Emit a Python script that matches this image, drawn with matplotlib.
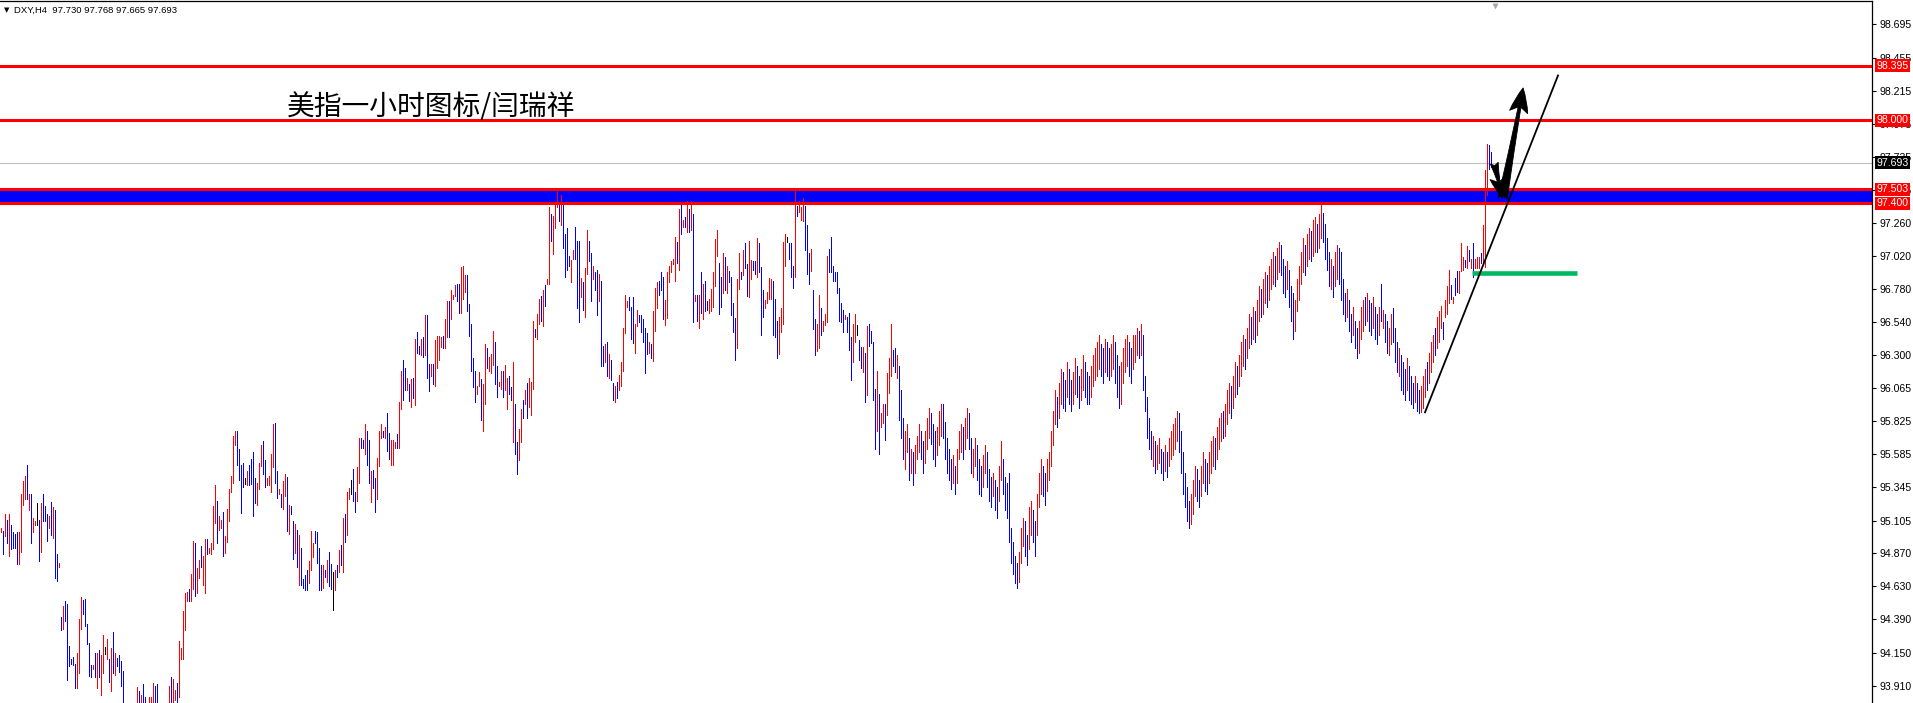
import matplotlib
matplotlib.use('Agg')
import matplotlib.pyplot as plt

# ---------------- data (DXY, H4) ----------------
highs = [
 95.05,95.03,95.15,95.11,95.15,95.07,95.02,95.01,95.02,95.02,
 95.30,95.39,95.43,95.51,95.30,95.30,95.12,95.10,95.23,95.11,
 95.23,95.30,95.21,95.15,95.14,95.24,95.20,95.18,94.86,94.80,
 94.41,94.49,94.52,94.50,94.20,94.10,94.12,94.07,94.15,94.39,
 94.55,94.53,94.54,94.36,94.22,94.06,94.06,94.15,94.15,94.17,
 94.13,94.28,94.19,94.25,94.10,94.18,94.30,94.15,94.11,94.13,
 94.09,94.02,93.76,93.74,93.75,93.73,93.74,93.76,93.90,93.87,
 93.84,93.92,93.83,93.76,93.83,
 93.83,93.93,93.91,93.92,93.76,93.75,93.74,93.76,93.77,93.91,
 93.97,93.96,93.88,93.93,94.23,94.18,94.45,94.58,94.59,94.61,
 94.72,94.96,94.94,94.76,94.82,94.92,94.85,94.97,94.97,94.91,
 94.94,95.21,95.36,95.25,95.14,95.11,95.17,94.99,95.19,95.33,
 95.43,95.72,95.75,95.75,95.62,95.51,95.52,95.41,95.46,95.51,
 95.55,95.60,95.41,95.38,95.52,95.65,95.68,95.54,95.41,95.43,
 95.59,95.80,95.81,95.46,95.33,95.30,95.39,95.44,95.42,95.22,
 95.21,95.10,95.08,95.04,95.00,
 94.91,94.68,94.71,94.75,94.81,95.03,94.94,95.03,95.02,94.91,
 94.78,94.78,94.75,94.82,94.88,94.79,94.73,94.75,94.78,94.89,
 94.93,95.12,95.15,95.31,95.34,95.40,95.48,95.31,95.49,95.70,
 95.70,95.69,95.80,95.75,95.69,95.46,95.47,95.41,95.56,95.75,
 95.80,95.75,95.78,95.88,95.74,95.69,95.69,95.67,95.73,95.96,
 96.19,96.27,96.21,96.14,96.09,96.13,96.14,96.42,96.47,96.37,
 96.42,96.43,96.59,96.59,96.24,96.24,96.24,96.41,96.44,96.44,
 96.43,96.44,96.56,96.69,96.69,
 96.77,96.74,96.81,96.82,96.82,96.94,96.95,96.88,96.88,96.67,
 96.53,96.28,96.19,96.08,96.18,96.13,96.09,96.38,96.35,96.29,
 96.31,96.48,96.40,96.22,96.11,96.19,96.19,96.23,96.14,96.15,
 96.07,96.25,95.95,95.67,95.77,95.91,95.98,96.05,96.10,96.14,
 96.11,96.55,96.49,96.60,96.71,96.73,96.77,96.81,96.85,97.37,
 97.32,97.31,97.39,97.49,97.39,97.46,97.39,97.18,97.22,97.02,
 96.99,97.06,97.23,97.13,97.13,96.86,96.83,96.93,97.21,97.13,
 97.04,96.95,96.90,96.92,96.89,
 96.84,96.37,96.38,96.40,96.31,96.27,96.10,96.08,96.11,96.16,
 96.25,96.50,96.74,96.69,96.72,96.65,96.72,96.53,96.63,96.59,
 96.59,96.56,96.50,96.46,96.40,96.38,96.62,96.79,96.83,96.84,
 96.90,96.87,96.70,96.90,96.95,96.98,97.00,97.16,97.12,97.36,
 97.39,97.28,97.30,97.42,97.36,97.42,97.32,96.74,96.74,96.74,
 96.90,96.82,96.84,96.69,96.71,96.78,96.90,97.14,97.21,96.97,
 96.87,97.04,97.01,96.95,96.91,96.87,96.68,96.57,96.85,97.04,
 96.90,97.06,97.11,96.96,97.13,
 96.99,96.98,96.98,97.15,97.11,96.94,96.77,96.70,96.76,96.86,
 96.85,96.84,96.71,96.55,96.58,96.64,97.12,97.18,97.16,97.11,
 97.11,96.95,97.49,97.38,97.42,97.37,97.44,97.38,97.24,97.04,
 97.07,96.77,96.56,96.53,96.74,96.64,96.55,96.60,97.02,97.07,
 97.16,96.95,96.90,96.90,96.79,96.68,96.63,96.59,96.58,96.61,
 96.43,96.53,96.60,96.52,96.41,96.36,96.36,96.32,96.51,96.53,
 96.48,96.40,96.06,96.19,96.02,95.88,95.95,95.95,96.17,96.28,
 96.53,96.34,96.35,96.30,96.22,
 96.05,95.85,95.75,95.80,95.70,95.62,95.60,95.65,95.72,95.80,
 95.75,95.68,95.75,95.85,95.92,95.88,95.80,95.75,95.78,95.90,
 95.95,95.95,95.82,95.70,95.62,95.55,95.58,95.50,95.62,95.75,
 95.80,95.78,95.85,95.92,95.88,95.70,95.62,95.70,95.65,95.55,
 95.50,95.58,95.65,95.60,95.48,95.42,95.45,95.40,95.35,95.50,
 95.68,95.55,95.42,95.38,95.45,95.05,94.95,94.85,94.80,94.88,
 95.05,95.12,95.10,95.00,95.20,95.25,95.18,95.10,95.30,95.45,
 95.55,95.50,95.45,95.55,95.60,95.75,95.90,96.05,96.00,96.10,
 96.20,96.18,96.12,96.25,96.20,96.12,96.18,96.28,96.22,96.15,
 96.20,96.30,96.25,96.18,96.15,96.22,96.30,96.35,96.40,96.45,
 96.38,96.35,96.42,96.40,96.35,96.38,96.45,96.40,96.30,96.22,
 96.25,96.35,96.42,96.45,96.40,96.35,96.45,96.45,96.50,96.48,
 96.53,96.45,96.15,96.00,95.85,95.75,95.72,95.68,95.65,95.70,
 95.62,95.60,95.65,95.60,95.70,95.75,95.80,95.85,95.90,95.88,
 95.75,95.60,95.45,95.35,95.25,95.30,95.40,95.50,95.48,95.40,
 95.50,95.60,95.55,95.52,95.60,95.68,95.72,95.70,95.78,95.85,
 95.88,95.90,95.95,96.05,96.10,96.08,96.15,96.25,96.22,96.30,
 96.40,96.45,96.42,96.50,96.60,96.58,96.65,96.62,96.70,96.80,
 96.78,96.85,96.90,96.88,96.95,97.00,97.05,97.02,97.08,97.12,
 97.10,97.00,96.95,96.98,96.92,96.80,96.75,96.70,96.85,96.95,
 97.05,97.15,97.10,97.18,97.22,97.20,97.28,97.30,97.25,97.32,
 97.39,97.33,97.25,97.15,97.05,97.00,96.95,97.05,97.10,97.08,
 97.05,96.85,96.75,96.78,96.70,96.60,96.65,96.55,96.50,96.55,
 96.65,96.70,96.72,96.75,96.70,96.68,96.72,96.65,96.60,96.65,
 96.82,96.63,96.60,96.55,96.50,96.60,96.64,96.50,96.40,96.35,
 96.30,96.25,96.20,96.28,96.22,96.15,96.10,96.15,96.10,96.05,
 96.08,96.15,96.20,96.25,96.32,96.40,96.45,96.50,96.58,96.62,
 96.66,96.54,96.70,96.80,96.92,96.81,96.72,96.86,96.91,96.91,
 97.11,97.01,96.99,97.09,97.06,97.00,97.11,97.00,97.01,97.01,
 97.04,97.24,97.64,97.83,97.82,97.768,
]
lows = [
 95.02,94.86,94.99,94.94,94.85,94.90,94.91,94.91,94.79,94.79,
 94.88,95.22,95.26,95.26,95.18,94.94,95.02,95.07,95.07,94.81,
 94.88,95.10,95.10,94.96,95.05,95.00,94.98,94.69,94.67,94.77,
 94.31,94.32,94.38,93.95,94.05,94.07,94.06,93.89,93.89,94.00,
 94.32,94.43,94.34,94.21,93.98,93.97,94.03,93.97,93.89,93.97,
 93.84,94.00,94.14,94.10,93.94,93.87,94.00,93.99,94.05,94.01,
 93.91,93.75,93.62,93.60,93.62,93.60,93.61,93.63,93.74,93.74,
 93.74,93.74,93.74,93.65,93.74,
 93.72,93.72,93.72,93.72,93.62,93.60,93.60,93.62,93.63,93.72,
 93.72,93.73,93.81,93.74,93.83,94.10,94.10,94.31,94.52,94.52,
 94.52,94.61,94.56,94.58,94.69,94.77,94.64,94.58,94.86,94.87,
 94.86,94.90,95.09,94.94,95.04,95.05,94.85,94.87,94.95,95.10,
 95.31,95.38,95.65,95.51,95.40,95.16,95.35,95.37,95.36,95.36,
 95.37,95.14,95.23,95.22,95.33,95.50,95.44,95.35,95.36,95.36,
 95.31,95.49,95.38,95.27,95.30,95.20,95.19,95.28,95.03,95.01,
 95.15,94.83,94.87,94.77,94.64,
 94.64,94.62,94.60,94.60,94.65,94.75,94.84,94.94,94.80,94.60,
 94.60,94.62,94.70,94.66,94.63,94.61,94.46,94.60,94.70,94.73,
 94.78,94.73,94.95,95.00,95.26,95.30,95.25,95.17,95.25,95.38,
 95.63,95.63,95.59,95.51,95.38,95.24,95.34,95.17,95.26,95.50,
 95.70,95.71,95.70,95.61,95.55,95.51,95.51,95.63,95.63,95.63,
 95.91,95.98,96.05,96.05,95.97,95.93,95.99,95.94,96.32,96.31,
 96.30,96.29,96.30,96.14,96.04,96.15,96.09,96.08,96.21,96.27,
 96.36,96.35,96.35,96.43,96.43,
 96.56,96.71,96.73,96.69,96.61,96.61,96.71,96.76,96.62,96.44,
 96.19,96.07,95.96,96.02,96.08,95.83,95.75,95.95,96.21,96.19,
 96.17,96.23,96.09,96.00,96.08,96.06,96.00,96.05,95.91,96.02,
 95.98,95.67,95.59,95.44,95.54,95.67,95.85,95.95,95.85,95.93,
 95.87,96.06,96.43,96.42,96.53,96.55,96.51,96.66,96.82,96.82,
 97.13,97.03,97.22,97.37,97.27,97.24,97.08,96.87,96.92,96.95,
 96.83,97.00,97.00,96.64,96.54,96.72,96.63,96.58,96.89,96.98,
 96.69,96.85,96.77,96.59,96.69,
 96.22,96.22,96.25,96.15,96.14,96.12,95.98,95.96,95.99,96.05,
 96.08,96.19,96.46,96.65,96.63,96.42,96.39,96.32,96.51,96.54,
 96.47,96.40,96.17,96.31,96.32,96.28,96.26,96.48,96.64,96.74,
 96.77,96.56,96.52,96.57,96.83,96.90,96.96,96.84,96.97,96.92,
 97.18,97.23,97.23,97.19,97.19,97.21,96.54,96.69,96.55,96.50,
 96.61,96.56,96.62,96.63,96.61,96.62,96.65,96.80,97.02,96.60,
 96.65,96.75,96.77,96.75,96.83,96.59,96.47,96.27,96.35,96.78,
 96.85,96.88,96.93,96.73,96.72,
 96.85,96.92,96.89,96.87,96.90,96.45,96.58,96.64,96.68,96.71,
 96.71,96.45,96.43,96.28,96.31,96.47,96.53,96.95,97.12,97.00,
 96.87,96.79,96.87,97.31,97.34,97.28,97.27,97.06,96.89,96.82,
 96.91,96.49,96.30,96.33,96.35,96.45,96.48,96.52,96.54,96.90,
 96.90,96.84,96.84,96.75,96.55,96.54,96.47,96.56,96.47,96.34,
 96.12,96.25,96.40,96.45,96.27,96.21,96.18,95.96,96.01,96.37,
 96.39,95.98,95.62,95.75,95.59,95.78,95.81,95.69,95.87,96.03,
 96.15,96.22,96.18,96.14,95.83,
 95.70,95.55,95.48,95.60,95.40,95.45,95.36,95.45,95.55,95.60,
 95.55,95.45,95.52,95.62,95.70,95.66,95.55,95.50,95.58,95.65,
 95.72,95.70,95.55,95.45,95.40,95.33,95.38,95.30,95.38,95.55,
 95.60,95.55,95.62,95.70,95.62,95.45,95.42,95.50,95.40,95.30,
 95.28,95.35,95.45,95.35,95.25,95.20,95.28,95.18,95.12,95.25,
 95.40,95.30,95.18,95.12,94.95,94.80,94.72,94.65,94.62,94.66,
 94.80,94.92,94.85,94.78,94.90,95.00,94.95,94.85,95.00,95.20,
 95.30,95.28,95.22,95.32,95.40,95.50,95.65,95.80,95.78,95.85,
 95.95,95.92,95.90,96.00,95.95,95.90,95.95,96.02,96.00,95.92,
 95.98,96.05,96.00,95.95,95.95,96.00,96.08,96.12,96.15,96.20,
 96.15,96.10,96.18,96.15,96.12,96.15,96.20,96.10,96.00,95.92,
 95.95,96.10,96.18,96.22,96.15,96.10,96.20,96.25,96.30,96.28,
 96.30,96.05,95.90,95.70,95.62,95.55,95.50,95.45,95.48,95.52,
 95.45,95.40,95.46,95.42,95.50,95.55,95.58,95.62,95.68,95.60,
 95.45,95.30,95.20,95.10,95.05,95.08,95.15,95.28,95.25,95.20,
 95.28,95.38,95.32,95.30,95.38,95.45,95.50,95.48,95.55,95.62,
 95.68,95.70,95.72,95.80,95.88,95.85,95.92,96.00,96.02,96.08,
 96.15,96.22,96.20,96.28,96.35,96.38,96.42,96.40,96.45,96.55,
 96.58,96.60,96.68,96.65,96.70,96.78,96.82,96.80,96.85,96.90,
 96.88,96.75,96.72,96.78,96.65,96.55,96.42,96.48,96.62,96.70,
 96.82,96.90,96.88,96.95,97.00,96.98,97.02,97.05,97.05,97.08,
 97.15,97.12,97.00,96.92,96.80,96.78,96.72,96.80,96.85,96.82,
 96.70,96.60,96.55,96.58,96.48,96.40,96.45,96.35,96.28,96.32,
 96.42,96.48,96.52,96.55,96.48,96.45,96.50,96.42,96.38,96.45,
 96.55,96.50,96.40,96.32,96.30,96.38,96.40,96.25,96.18,96.15,
 96.05,96.02,95.98,96.05,95.98,95.95,95.92,95.96,95.90,95.88,
 95.89,95.92,96.00,96.05,96.10,96.18,96.25,96.30,96.35,96.40,
 96.50,96.42,96.58,96.60,96.68,96.71,96.68,96.74,96.76,96.75,
 96.91,96.92,96.94,96.93,96.98,96.93,96.87,96.93,96.93,96.93,
 96.97,96.97,96.94,97.46,97.65,97.665,
]
# r = up bar, b = down bar, k = doji
directions = (
 "rbrbrbbbbr" "rrrbrbrrkb" "rbbbrbrbbr" "brbbbbbbrr" "rbbbbbrbrb" "rrkrbrbrbb" "bbbrbbrrrb" "rbbbr"
 "rrbbbrbrbr" "brrbrrrrrb" "rrbrrbrrbr" "rrrbrrbrrr" "rrrbbbbkrb" "bbbrrrbbrr" "rrbbrbrrbr" "bbrbr"
 "bbbbrrrbbb" "brbrbbkrbr" "brbrrkbbrr" "bbrbbrbbrr" "rbrbbrrrbr" "rbbrbrbrbb" "rbrbbrbrrr" "rbrrb"
 "rrrbbrrrbb" "bbbrrbrrbr" "rrbbrrbrrb" "brbbrrbrbr" "rrbrrbrbrr" "brrrbrbbbb" "rrbbbrbrrb" "brbbr"
 "bbrbrbbrbr" "rrrrbbbrrb" "bbbbrbrrrb" "bbrrrrrrbr" "brbrbrbrbr" "brbbrrrrrb" "brbrbbbbrr" "brbbr"
 "rbbrbbbrrr" "rbbbrrrrkb" "bbrbrrrbbb" "rbbrrbrrrb" "bbbbbbbrbb" "brrkbbrbrb" "bbbrbrrbrr" "rbbrb"
 "bbrrbrbrrr" "bbrrrbbbrr" "rbbbbbrbrr" "rbrrbbrrbb" "brrbbbrbbr" "rbbbbbbbbr" "rrbbrrbbrr"
 "rbbrrrrrbr" "rbbrbbrrbb" "rrbbbrrrrr" "bbrbbrrbbb" "rrrrbbrrrb" "rbbbbbrbrr" "bbrbrrrrrb"
 "bbbbbrrrbb" "rrbbrrrbrr" "rbrrrbrrbr" "rrbrrbrbrr" "brrbrrrbrr" "bbbrbbbrrr" "rrbrrbrrbr"
 "rbbbbrbrrb" "bbbrbbrbbr" "rrbrbbrbbr" "brbbrrbbbr" "bbbrbbbrbb" "rrrbrrrbrr" "rbrrrbrbbr"
 "rrbrbrbrrr" "brrrbb"
)

header_text = "DXY,H4  97.730 97.768 97.665 97.693"
title_text = "美指一小时图标/闫瑞祥"

resist_lines = [98.395, 98.000]
last_price = 97.693
zone_top, zone_bottom = 97.503, 97.400
support_level = 96.894
support_span = (735.35, 787.85)
trend_start = (711.85, 95.888)
trend_end = (778.35, 98.325)
arrow_down = ((746.5, 97.690), (750.7, 97.437))
arrow_up = ((750.7, 97.437), (760.9, 98.235))
shift_marker_x = 746.85

y_ticks = [98.695, 98.455, 98.215, 97.975, 97.735, 97.495, 97.260, 97.020,
           96.780, 96.540, 96.300, 96.065, 95.825, 95.585, 95.345, 95.105,
           94.870, 94.630, 94.390, 94.150, 93.910]

# ---------------- figure ----------------
W, H = 1913, 703
fig = plt.figure(figsize=(W / 100, H / 100), dpi=100)
fig.patch.set_facecolor('white')
ax = fig.add_axes([0, 0, 1872 / W, 702 / H])
ax.set_xlim(-0.65, 935.35)
ax.set_ylim(93.785, 98.864)

# zone and horizontal lines
ax.axhspan(zone_bottom, zone_top, color='#0000ff', lw=0, zorder=1)
for v in (zone_top, zone_bottom):
    ax.axhline(v, color='#ff0000', lw=2.2, zorder=1.5)
for v in resist_lines:
    ax.axhline(v, color='#ff0000', lw=2.2, zorder=3)
ax.axhline(last_price, color='#c0c0c0', lw=0.8, zorder=0.8)

# bars
cmap = {'r': '#ff0000', 'b': '#0000ff', 'k': '#000000'}
n = min(len(highs), len(lows), len(directions))
xs = list(range(n))
cols = [cmap[c] for c in directions[:n]]
ax.vlines(xs, lows[:n], highs[:n], colors=cols, linewidth=0.72,
          antialiased=False, zorder=2)

# drawings
ax.plot([support_span[0], support_span[1]], [support_level, support_level],
        color='#00b862', lw=3.3, solid_capstyle='butt', zorder=4)
ax.plot([trend_start[0], trend_end[0]], [trend_start[1], trend_end[1]],
        color='black', lw=1.3, zorder=4)
for (tail, tip), ms in ((arrow_down, 19), (arrow_up, 22)):
    ax.annotate('', xy=tip, xytext=tail,
                arrowprops=dict(arrowstyle='fancy,head_length=0.8,head_width=0.6,tail_width=0.3',
                                fc='black', ec='black', lw=0.6, shrinkA=0, shrinkB=0,
                                mutation_scale=ms),
                zorder=5)

# shift marker
ax.plot([shift_marker_x], [0.993], marker='v', ms=5, color='#a8a8a8', mec='none',
        transform=ax.get_xaxis_transform(), clip_on=False, zorder=6)

# axes styling
for s in ('left', 'bottom'):
    ax.spines[s].set_visible(False)
for s in ('top', 'right'):
    ax.spines[s].set_linewidth(0.9)
    ax.spines[s].set_color('black')
ax.set_xticks([])
ax.yaxis.tick_right()
ax.set_yticks(y_ticks)
ax.set_yticklabels([f'{v:.3f}' for v in y_ticks], fontfamily='Liberation Sans')
ax.tick_params(axis='y', direction='out', length=3, width=0.8, pad=2.5,
               labelsize=7.6, colors='black')

# price labels
for v, fc in ((resist_lines[0], '#ff0000'), (resist_lines[1], '#ff0000'),
              (last_price, '#000000'), (zone_top, '#ff0000'), (zone_bottom, '#ff0000')):
    ax.annotate(f'{v:.3f}', xy=(1, v), xycoords=ax.get_yaxis_transform(),
                xytext=(3.2, 0), textcoords='offset points', ha='left', va='center',
                fontsize=7.6, color='white', fontfamily='Liberation Sans',
                bbox=dict(boxstyle='square,pad=0.15', fc=fc, ec='none'),
                annotation_clip=False, zorder=10)

# texts
fig.text(4 / W, 1 - 10 / H, '\u25bc', fontsize=5, family='DejaVu Sans', va='center', ha='left')
fig.text(14 / W, 1 - 10 / H, header_text, fontsize=6.8, family='Liberation Sans',
         va='center', ha='left')
fig.text(287 / W, 1 - 107 / H, title_text, fontsize=20,
         family=['Noto Sans CJK SC', 'DejaVu Sans'], va='center', ha='left')

fig.savefig('out.png', dpi=100, facecolor='white')
